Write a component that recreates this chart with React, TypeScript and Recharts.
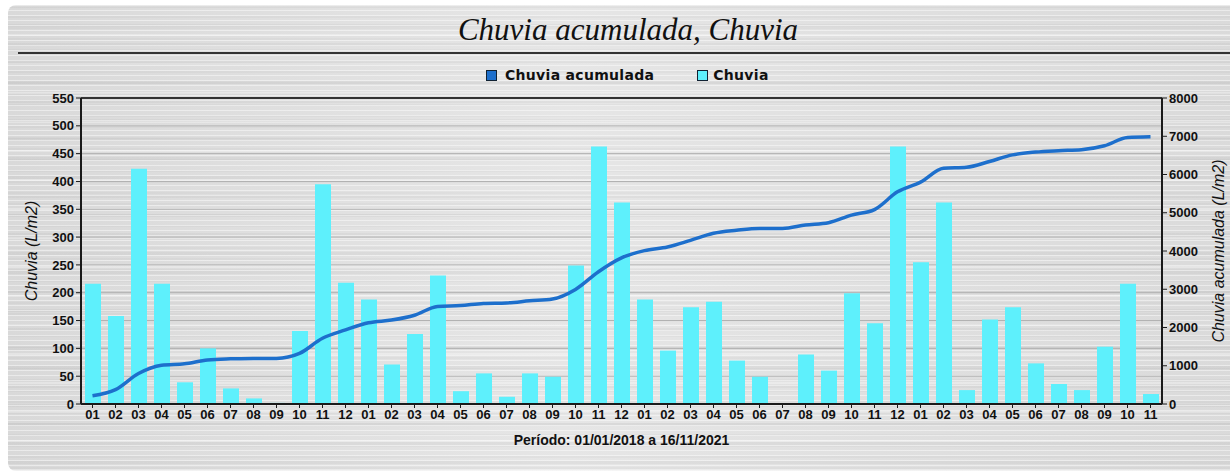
import React from "react";
import {
  ComposedChart,
  Bar,
  Line,
  XAxis,
  YAxis,
  CartesianGrid,
  ReferenceLine,
} from "recharts";

const periods = [
  "2018-01","2018-02","2018-03","2018-04","2018-05","2018-06","2018-07","2018-08","2018-09","2018-10","2018-11","2018-12",
  "2019-01","2019-02","2019-03","2019-04","2019-05","2019-06","2019-07","2019-08","2019-09","2019-10","2019-11","2019-12",
  "2020-01","2020-02","2020-03","2020-04","2020-05","2020-06","2020-07","2020-08","2020-09","2020-10","2020-11","2020-12",
  "2021-01","2021-02","2021-03","2021-04","2021-05","2021-06","2021-07","2021-08","2021-09","2021-10","2021-11",
];

const monthLabels = [
  "01","02","03","04","05","06","07","08","09","10","11","12",
  "01","02","03","04","05","06","07","08","09","10","11","12",
  "01","02","03","04","05","06","07","08","09","10","11","12",
  "01","02","03","04","05","06","07","08","09","10","11",
];

const chuvia = [
  216, 158, 423, 216, 39, 100, 28, 10, 2, 131, 395, 218,
  188, 71, 126, 231, 23, 55, 13, 55, 49, 249, 463, 362,
  188, 96, 174, 184, 78, 49, 0, 89, 60, 199, 145, 463,
  255, 362, 25, 152, 174, 73, 36, 25, 103, 216, 18,
];

const chuviaAcumulada = [
  216, 374, 797, 1013, 1052, 1152, 1180, 1190, 1192, 1323, 1718, 1936,
  2124, 2195, 2321, 2552, 2575, 2630, 2643, 2698, 2747, 2996, 3459, 3821,
  4009, 4105, 4279, 4463, 4541, 4590, 4590, 4679, 4739, 4938, 5083, 5546,
  5801, 6163, 6188, 6340, 6514, 6587, 6623, 6648, 6751, 6967, 6985,
];

const leftTicks = [0, 50, 100, 150, 200, 250, 300, 350, 400, 450, 500, 550];
const rightTicks = [0, 1000, 2000, 3000, 4000, 5000, 6000, 7000, 8000];

const data = periods.map((p, i) => ({
  periodo: p,
  mes: monthLabels[i],
  chuvia: chuvia[i],
  acumulada: chuviaAcumulada[i],
}));

const LINE_COLOR = "#1d6fcc";
const BAR_COLOR = "#5ef0fc";
const AXIS_COLOR = "#1a1a1a";
const tickFont = {
  fontFamily: "'Liberation Sans', Arial, sans-serif",
  fontSize: 13,
  fontWeight: 700,
  fill: "#111",
};
const axisLabelFont = {
  fontFamily: "'Liberation Sans', Arial, sans-serif",
  fontStyle: "italic",
  fontSize: 16,
  fill: "#111",
  textAnchor: "middle" as const,
};

const brushed =
  "repeating-linear-gradient(180deg, rgba(255,255,255,0.45) 0px, rgba(255,255,255,0.45) 1px, rgba(255,255,255,0) 1px, rgba(255,255,255,0) 5px)," +
  "repeating-linear-gradient(180deg, rgba(0,0,0,0.025) 0px, rgba(0,0,0,0.025) 2px, rgba(0,0,0,0) 2px, rgba(0,0,0,0) 11px)," +
  "repeating-linear-gradient(180deg, rgba(0,0,0,0.03) 0px, rgba(0,0,0,0.03) 3px, rgba(0,0,0,0) 3px, rgba(0,0,0,0) 19px)," +
  "repeating-linear-gradient(180deg, rgba(255,255,255,0.3) 0px, rgba(255,255,255,0.3) 2px, rgba(255,255,255,0) 2px, rgba(255,255,255,0) 29px)," +
  "linear-gradient(90deg, #d9d9d9 0%, #e6e6e6 45%, #e0e0e0 70%, #dadada 100%)";

export default function App() {
  const monthByPeriod: Record<string, string> = {};
  data.forEach((d) => (monthByPeriod[d.periodo] = d.mes));

  return (
    <div
      style={{
        position: "fixed",
        left: 0,
        top: 0,
        width: 1230,
        height: 473,
        background: "#ffffff",
        overflow: "hidden",
      }}
    >
      <div
        style={{
          position: "absolute",
          left: 8,
          top: 5,
          width: 1240,
          height: 466,
          borderRadius: 8,
          background: brushed,
        }}
      />
      <div
        style={{
          position: "absolute",
          left: 0,
          top: 12,
          width: 1256,
          textAlign: "center",
          fontFamily: "'Liberation Serif', 'Times New Roman', serif",
          fontStyle: "italic",
          fontSize: 31,
          color: "#111",
          lineHeight: "36px",
        }}
      >
        Chuvia acumulada, Chuvia
      </div>
      <div
        style={{
          position: "absolute",
          left: 18,
          top: 52,
          width: 1212,
          height: 2,
          background: "#333",
        }}
      />
      <div
        style={{
          position: "absolute",
          left: 486,
          top: 65,
          display: "flex",
          alignItems: "center",
          fontFamily: "'DejaVu Sans', Tahoma, sans-serif",
          fontWeight: 700,
          fontSize: 14,
          letterSpacing: 0.3,
          color: "#111",
          lineHeight: "20px",
        }}
      >
        <span
          style={{
            display: "inline-block",
            width: 9,
            height: 9,
            background: LINE_COLOR,
            border: "1px solid #123",
            marginRight: 8,
          }}
        />
        <span style={{ marginRight: 43 }}>Chuvia acumulada</span>
        <span
          style={{
            display: "inline-block",
            width: 9,
            height: 9,
            background: BAR_COLOR,
            border: "1px solid #123",
            marginRight: 5,
          }}
        />
        <span>Chuvia</span>
      </div>
      <div style={{ position: "absolute", left: 0, top: 0 }}>
        <ComposedChart
          width={1230}
          height={473}
          data={data}
          margin={{ top: 98, right: 8, bottom: 39, left: 21 }}
          barSize={16}
        >
          <CartesianGrid
            vertical={false}
            horizontal={true}
            stroke="#b0b0b0"
            strokeWidth={1}
            yAxisId="left"
          />
          <XAxis
            dataKey="periodo"
            tickFormatter={(v: string) => monthByPeriod[v]}
            interval={0}
            height={30}
            tick={tickFont}
            tickLine={{ stroke: AXIS_COLOR }}
            tickSize={4}
            axisLine={{ stroke: AXIS_COLOR, strokeWidth: 2 }}
            label={{
              value: "Período: 01/01/2018 a 16/11/2021",
              position: "insideBottom",
              offset: -11,
              style: { ...tickFont, fontSize: 14, textAnchor: "middle" },
            }}
          />
          <YAxis
            yAxisId="left"
            orientation="left"
            width={60}
            domain={[0, 550]}
            ticks={leftTicks}
            interval={0}
            tick={tickFont}
            tickSize={5}
            tickLine={{ stroke: AXIS_COLOR }}
            axisLine={{ stroke: AXIS_COLOR, strokeWidth: 2 }}
            label={{
              value: "Chuvia (L/m2)",
              angle: -90,
              position: "insideLeft",
              offset: 10,
              style: axisLabelFont,
            }}
          />
          <YAxis
            yAxisId="right"
            orientation="right"
            width={60}
            domain={[0, 8000]}
            ticks={rightTicks}
            interval={0}
            tick={tickFont}
            tickSize={5}
            tickLine={{ stroke: AXIS_COLOR }}
            axisLine={{ stroke: AXIS_COLOR, strokeWidth: 2 }}
            label={{
              value: "Chuvia acumulada (L/m2)",
              angle: -90,
              position: "insideRight",
              offset: 4,
              style: axisLabelFont,
            }}
          />
          <ReferenceLine yAxisId="left" y={550} stroke="#333" strokeWidth={2} />
          <Bar
            yAxisId="left"
            dataKey="chuvia"
            name="Chuvia"
            fill={BAR_COLOR}
            isAnimationActive={false}
          />
          <Line
            yAxisId="right"
            dataKey="acumulada"
            name="Chuvia acumulada"
            type="monotone"
            stroke={LINE_COLOR}
            strokeWidth={3.5}
            dot={false}
            activeDot={false}
            isAnimationActive={false}
          />
        </ComposedChart>
      </div>
    </div>
  );
}
